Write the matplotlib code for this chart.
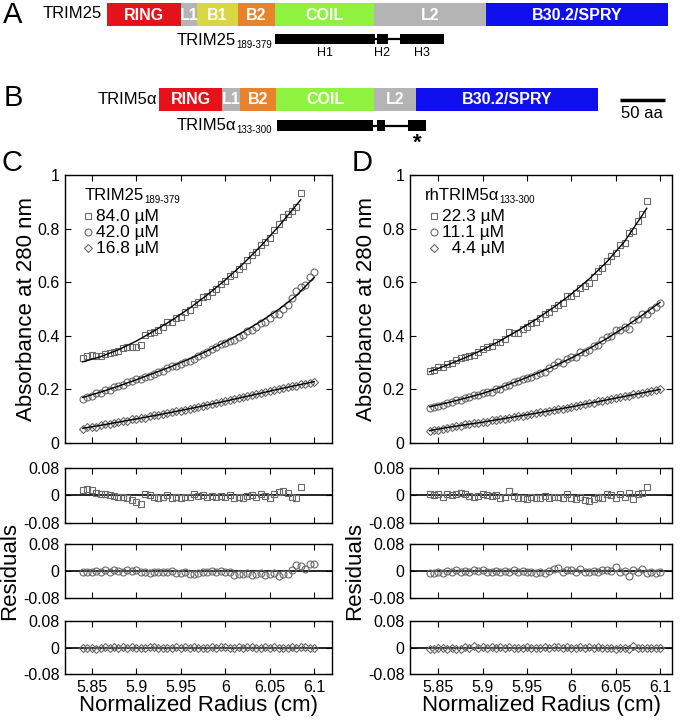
import matplotlib
matplotlib.use('Agg')
import matplotlib.pyplot as plt
from matplotlib.patches import Rectangle

plt.rcParams['font.family'] = ['Liberation Sans', 'DejaVu Sans']

# ---------------- domain maps (residue numbers) ----------------
trim25_names = ['RING', 'L1', 'B1', 'B2', 'COIL', 'L2', 'B30.2/SPRY']
trim25_bounds = [0, 83, 101, 147, 189, 300, 426, 630]
trim25_helices = [(189, 301), (303, 316), (329, 379)]
trim25_helix_labels = ['H1', 'H2', 'H3']

trim5_names = ['RING', 'L1', 'B2', 'COIL', 'L2', 'B30.2/SPRY']
trim5_bounds = [0, 71, 91, 131, 242, 289, 493]
trim5_helices = [(133, 240), (245, 254), (280, 300)]

dom_colors = {'RING': '#e3121b', 'L1': '#b4b4b4', 'B1': '#d8d642', 'B2': '#e9832b',
              'COIL': '#8ff23f', 'L2': '#b4b4b4', 'B30.2/SPRY': '#1010ee'}

# ---------------- panel C: TRIM25 189-379 ----------------
c_labels = ['84.0 \u00b5M', '42.0 \u00b5M', '16.8 \u00b5M']

c_sq_r = [5.840, 5.845, 5.850, 5.855, 5.860, 5.865, 5.870, 5.875, 5.880, 5.885,
          5.890, 5.895, 5.900, 5.905, 5.910, 5.915, 5.920, 5.925, 5.930, 5.935,
          5.940, 5.945, 5.950, 5.955, 5.960, 5.965, 5.970, 5.975, 5.980, 5.985,
          5.990, 5.995, 6.000, 6.005, 6.010, 6.015, 6.020, 6.025, 6.030, 6.035,
          6.040, 6.045, 6.050, 6.055, 6.060, 6.065, 6.070, 6.075, 6.080, 6.085]
c_sq_abs = [0.318, 0.326, 0.329, 0.325, 0.326, 0.332, 0.335, 0.340, 0.344, 0.353,
            0.358, 0.360, 0.360, 0.365, 0.403, 0.411, 0.415, 0.422, 0.434, 0.450,
            0.452, 0.465, 0.472, 0.489, 0.498, 0.519, 0.526, 0.543, 0.549, 0.565,
            0.575, 0.593, 0.604, 0.625, 0.632, 0.650, 0.660, 0.683, 0.703, 0.714,
            0.738, 0.751, 0.765, 0.794, 0.818, 0.842, 0.854, 0.864, 0.881, 0.932]
c_sq_res = [0.015, 0.018, 0.016, 0.008, 0.004, 0.003, 0.000, -0.002, -0.004, -0.003,
            -0.006, -0.012, -0.020, -0.025, 0.004, 0.002, -0.003, -0.006, -0.004, 0.002,
            -0.006, -0.004, -0.008, -0.003, -0.005, 0.003, -0.002, 0.002, -0.004, -0.002,
            -0.005, -0.001, -0.004, 0.002, -0.006, -0.003, -0.008, -0.002, 0.002, -0.004,
            0.003, -0.002, -0.006, 0.004, 0.010, 0.014, 0.006, -0.004, -0.007, 0.024]

c_ci_r = [5.840, 5.845, 5.850, 5.855, 5.860, 5.865, 5.870, 5.875, 5.880, 5.885,
          5.890, 5.895, 5.900, 5.905, 5.910, 5.915, 5.920, 5.925, 5.930, 5.935,
          5.940, 5.945, 5.950, 5.955, 5.960, 5.965, 5.970, 5.975, 5.980, 5.985,
          5.990, 5.995, 6.000, 6.005, 6.010, 6.015, 6.020, 6.025, 6.030, 6.035,
          6.040, 6.045, 6.050, 6.055, 6.060, 6.065, 6.070, 6.075, 6.080, 6.085,
          6.090, 6.095, 6.100]
c_ci_abs = [0.166, 0.173, 0.177, 0.185, 0.187, 0.198, 0.199, 0.210, 0.212, 0.216,
            0.226, 0.230, 0.239, 0.240, 0.245, 0.249, 0.259, 0.264, 0.270, 0.278,
            0.286, 0.288, 0.294, 0.303, 0.306, 0.312, 0.323, 0.333, 0.341, 0.352,
            0.359, 0.370, 0.375, 0.382, 0.384, 0.397, 0.404, 0.418, 0.422, 0.434,
            0.448, 0.453, 0.466, 0.481, 0.483, 0.501, 0.514, 0.541, 0.568, 0.581,
            0.590, 0.621, 0.638]
c_ci_res = [-0.004, -0.002, -0.003, 0.000, -0.003, 0.002, -0.002, 0.003, 0.000, -0.002,
            0.002, 0.000, 0.003, -0.002, -0.004, -0.006, -0.002, -0.003, -0.004, -0.002,
            0.000, -0.005, -0.006, -0.004, -0.008, -0.010, -0.006, -0.004, -0.003, 0.000,
            -0.002, 0.001, -0.002, -0.004, -0.012, -0.008, -0.010, -0.006, -0.012, -0.010,
            -0.006, -0.012, -0.010, -0.006, -0.015, -0.010, -0.010, 0.004, 0.018, 0.014,
            0.006, 0.020, 0.020]

c_di_r = c_ci_r
c_di_abs = [0.052, 0.058, 0.060, 0.061, 0.066, 0.070, 0.071, 0.076, 0.077, 0.081,
            0.083, 0.088, 0.090, 0.093, 0.095, 0.100, 0.103, 0.105, 0.108, 0.111,
            0.114, 0.119, 0.121, 0.125, 0.127, 0.132, 0.135, 0.138, 0.141, 0.146,
            0.148, 0.153, 0.157, 0.159, 0.163, 0.168, 0.170, 0.176, 0.178, 0.181,
            0.186, 0.190, 0.193, 0.198, 0.201, 0.204, 0.208, 0.212, 0.214, 0.219,
            0.222, 0.225, 0.228]
c_di_res = [-0.003, 0.000, -0.001, -0.004, 0.000, 0.001, -0.001, 0.002, 0.000, 0.001,
            -0.001, 0.001, 0.000, 0.000, -0.001, 0.001, 0.001, -0.002, -0.001, -0.002,
            -0.001, 0.001, 0.000, 0.001, -0.001, 0.001, 0.000, -0.001, -0.001, 0.001,
            -0.001, 0.001, 0.001, -0.001, -0.001, 0.001, -0.001, 0.002, 0.001, -0.002,
            0.000, 0.001, 0.000, 0.002, 0.000, -0.001, 0.000, 0.001, -0.001, 0.001,
            0.001, 0.000, -0.001]

# fitted curves read at 0.02 cm steps
c_fit_r = [5.84, 5.86, 5.88, 5.90, 5.92, 5.94, 5.96, 5.98, 6.00, 6.02, 6.04, 6.06, 6.08, 6.10]
c_sq_fit_r = [5.84, 5.86, 5.88, 5.90, 5.92, 5.94, 5.96, 5.98, 6.00, 6.02, 6.04, 6.06, 6.08, 6.085]
c_sq_fit = [0.303, 0.322, 0.348, 0.380, 0.418, 0.458, 0.503, 0.553, 0.608, 0.668, 0.735, 0.808, 0.888, 0.908]
c_ci_fit = [0.170, 0.190, 0.212, 0.236, 0.261, 0.286, 0.314, 0.344, 0.377, 0.414, 0.454, 0.498, 0.550, 0.618]
c_di_fit = [0.055, 0.066, 0.078, 0.090, 0.102, 0.115, 0.128, 0.142, 0.156, 0.171, 0.186, 0.201, 0.215, 0.229]

# ---------------- panel D: rhTRIM5alpha 133-300 ----------------
d_labels = ['22.3 \u00b5M', '11.1 \u00b5M', '  4.4 \u00b5M']

d_sq_r = c_sq_r
d_sq_abs = [0.270, 0.272, 0.284, 0.282, 0.294, 0.299, 0.309, 0.317, 0.322, 0.324,
            0.328, 0.339, 0.352, 0.357, 0.363, 0.376, 0.376, 0.388, 0.415, 0.409,
            0.412, 0.424, 0.432, 0.447, 0.453, 0.466, 0.482, 0.487, 0.502, 0.516,
            0.524, 0.548, 0.550, 0.560, 0.580, 0.586, 0.596, 0.618, 0.640, 0.654,
            0.680, 0.697, 0.708, 0.737, 0.748, 0.783, 0.791, 0.829, 0.856, 0.902]
d_sq_res = [0.004, 0.000, 0.005, -0.003, 0.003, 0.001, 0.004, 0.006, 0.004, -0.002,
            -0.005, -0.002, 0.004, 0.000, -0.002, 0.002, -0.006, -0.004, 0.014, -0.002,
            -0.008, -0.006, -0.009, -0.004, -0.008, -0.006, -0.002, -0.008, -0.004, -0.003,
            -0.007, 0.004, -0.006, -0.010, -0.004, -0.012, -0.016, -0.010, -0.004, -0.006,
            0.004, 0.002, -0.006, 0.004, -0.004, 0.006, -0.010, 0.003, 0.006, 0.026]

d_ci_r = c_ci_r
d_ci_abs = [0.129, 0.133, 0.139, 0.140, 0.150, 0.152, 0.161, 0.161, 0.167, 0.170,
            0.178, 0.180, 0.188, 0.189, 0.192, 0.202, 0.203, 0.213, 0.218, 0.228,
            0.230, 0.239, 0.242, 0.248, 0.252, 0.263, 0.266, 0.279, 0.292, 0.302,
            0.300, 0.312, 0.321, 0.322, 0.341, 0.339, 0.348, 0.362, 0.367, 0.383,
            0.394, 0.401, 0.423, 0.420, 0.432, 0.427, 0.459, 0.462, 0.482, 0.483,
            0.497, 0.507, 0.521]
d_ci_res = [-0.006, -0.006, -0.004, -0.006, 0.000, -0.002, 0.002, -0.002, 0.000, -0.002,
            0.002, -0.001, 0.003, -0.002, -0.004, 0.000, -0.004, 0.000, -0.002, 0.002,
            -0.002, 0.000, -0.003, -0.004, -0.006, -0.002, -0.006, 0.000, 0.006, 0.008,
            -0.002, 0.003, 0.004, -0.004, 0.006, -0.004, -0.004, 0.000, -0.004, 0.002,
            0.004, 0.000, 0.012, -0.002, 0.000, -0.016, 0.004, -0.004, 0.005, -0.006,
            -0.004, -0.006, -0.004]

d_di_r = c_ci_r
d_di_abs = [0.043, 0.047, 0.048, 0.054, 0.056, 0.061, 0.062, 0.064, 0.070, 0.070,
            0.074, 0.075, 0.079, 0.080, 0.084, 0.087, 0.090, 0.091, 0.094, 0.098,
            0.100, 0.102, 0.106, 0.108, 0.111, 0.114, 0.117, 0.119, 0.123, 0.126,
            0.128, 0.132, 0.135, 0.137, 0.142, 0.144, 0.148, 0.151, 0.155, 0.157,
            0.161, 0.164, 0.168, 0.170, 0.174, 0.176, 0.181, 0.184, 0.187, 0.190,
            0.193, 0.197, 0.201]
d_di_res = [-0.004, -0.005, -0.002, -0.003, -0.004, -0.002, -0.006, -0.004, 0.002, -0.002,
            0.004, 0.000, 0.001, -0.002, 0.001, 0.000, 0.002, 0.000, 0.001, -0.001,
            0.000, -0.002, 0.001, -0.001, 0.000, 0.000, 0.001, -0.002, 0.001, 0.002,
            0.000, 0.001, 0.000, -0.001, 0.002, 0.000, 0.001, 0.000, 0.001, -0.003,
            -0.002, 0.000, -0.004, -0.002, -0.003, -0.005, 0.004, -0.002, 0.000, -0.002,
            -0.003, -0.002, 0.000]

d_fit_r = [5.84, 5.86, 5.88, 5.90, 5.92, 5.94, 5.96, 5.98, 6.00, 6.02, 6.04, 6.06, 6.08, 6.085]
d_sq_fit = [0.266, 0.291, 0.318, 0.348, 0.382, 0.420, 0.461, 0.506, 0.556, 0.612, 0.676, 0.752, 0.850, 0.876]
d_fit_r2 = [5.84, 5.86, 5.88, 5.90, 5.92, 5.94, 5.96, 5.98, 6.00, 6.02, 6.04, 6.06, 6.08, 6.10]
d_ci_fit = [0.135, 0.150, 0.167, 0.185, 0.207, 0.232, 0.258, 0.286, 0.317, 0.352, 0.390, 0.432, 0.477, 0.525]
d_di_fit = [0.046, 0.058, 0.068, 0.078, 0.089, 0.100, 0.111, 0.123, 0.135, 0.148, 0.161, 0.174, 0.187, 0.200]

rad_ticks = [5.85, 5.90, 5.95, 6.00, 6.05, 6.10]
rad_ticklabels = ['5.85', '5.9', '5.95', '6', '6.05', '6.1']
abs_ticks = [0, 0.2, 0.4, 0.6, 0.8, 1.0]
abs_ticklabels = ['0', '0.2', '0.4', '0.6', '0.8', '1']
res_ticks = [-0.08, 0, 0.08]
res_ticklabels = ['-0.08', '0', '0.08']

# ---------------- figure ----------------
W, H = 680, 724
fig = plt.figure(figsize=(6.8, 7.24), dpi=100)


def px_box(x0, y0, x1, y1):
    return [x0 / W, 1 - y1 / H, (x1 - x0) / W, (y1 - y0) / H]


top = fig.add_axes([0, 0, 1, 1])
top.set_xlim(0, W)
top.set_ylim(H, 0)
top.axis('off')

PX_AA = 0.89


def draw_map(x0, y0, y1, bounds, names):
    for i, name in enumerate(names):
        a = x0 + bounds[i] * PX_AA
        b = x0 + bounds[i + 1] * PX_AA
        top.add_patch(Rectangle((a, y0), b - a, y1 - y0, color=dom_colors[name], lw=0))
        top.text((a + b) / 2, (y0 + y1) / 2 + 0.5, name, color='white', weight='bold',
                 fontsize=11.5, ha='center', va='center')


def draw_helices(x0, y0, y1, helices):
    ym = (y0 + y1) / 2
    top.plot([x0 + helices[0][0] * PX_AA, x0 + helices[-1][1] * PX_AA], [ym, ym],
             color='black', lw=1.6, solid_capstyle='butt')
    for a, b in helices:
        top.add_patch(Rectangle((x0 + a * PX_AA, y0), (b - a) * PX_AA, y1 - y0,
                                color='black', lw=0))


def sub_label(ax, x, y, main, sub, size, subsize, ha, transform):
    if ha == 'left':
        t = ax.text(x, y, main, fontsize=size, ha='left', va='baseline', transform=transform)
        ax.annotate(sub, xy=(1, 0), xycoords=t, xytext=(0.3, -1.5), textcoords='offset points',
                    fontsize=subsize, ha='left', va='bottom')
    else:
        s = ax.text(x, y, sub, fontsize=subsize, ha='right', va='baseline', transform=transform)
        ax.annotate(main, xy=(0, 0), xycoords=s, xytext=(-0.3, 1.5), textcoords='offset points',
                    fontsize=size, ha='right', va='bottom')


# panel A
top.text(13, 15, 'A', fontsize=21, ha='center', va='center')
top.text(102, 14, 'TRIM25', fontsize=12, ha='right', va='center')
draw_map(107, 3, 26, trim25_bounds, trim25_names)
draw_helices(107, 34, 44, trim25_helices)
sub_label(top, 272, 48, 'TRIM25', '189-379', 12, 7, 'right', top.transData)
for (a, b), lab in zip(trim25_helices, trim25_helix_labels):
    top.text(107 + (a + b) / 2 * PX_AA, 53, lab, fontsize=9, ha='center', va='center')

# panel B
top.text(13, 98, 'B', fontsize=21, ha='center', va='center')
top.text(157, 100, 'TRIM5\u03b1', fontsize=12, ha='right', va='center')
draw_map(159, 88, 111, trim5_bounds, trim5_names)
draw_helices(159, 120, 131, trim5_helices)
sub_label(top, 272, 133, 'TRIM5\u03b1', '133-300', 12, 7, 'right', top.transData)
top.text(159 + (trim5_helices[-1][0] + trim5_helices[-1][1]) / 2 * PX_AA, 143, '*',
         fontsize=16, weight='bold', ha='center', va='center')
top.plot([620, 620 + 50 * PX_AA], [100, 100], color='black', lw=2.5, solid_capstyle='butt')
top.text(620 + 25 * PX_AA, 114, '50 aa', fontsize=12, ha='center', va='center')

top.text(12, 163, 'C', fontsize=21, ha='center', va='center')
top.text(362, 163, 'D', fontsize=21, ha='center', va='center')

mk = dict(linestyle='none', mfc='none', mec='#6a6a6a', mew=0.8)
markers = [('s', 5), ('o', 5), ('D', 4)]


def style(ax, xlim):
    ax.set_xlim(xlim)
    ax.set_xticks(rad_ticks)
    ax.tick_params(direction='in', top=True, right=True, length=4, width=0.8,
                   labelsize=11.5, pad=4)
    for s in ax.spines.values():
        s.set_linewidth(1.0)


panels = [
    (65, 332, (5.82, 6.12), 'TRIM25', '189-379', c_labels, (0.075, 0.087, 0.117),
     [(c_sq_r, c_sq_abs, c_sq_res, c_sq_fit_r, c_sq_fit),
      (c_ci_r, c_ci_abs, c_ci_res, c_fit_r, c_ci_fit),
      (c_di_r, c_di_abs, c_di_res, c_fit_r, c_di_fit)]),
    (410, 672, (5.818, 6.1135), 'rhTRIM5\u03b1', '133-300', d_labels, (0.057, 0.092, 0.122),
     [(d_sq_r, d_sq_abs, d_sq_res, d_fit_r, d_sq_fit),
      (d_ci_r, d_ci_abs, d_ci_res, d_fit_r2, d_ci_fit),
      (d_di_r, d_di_abs, d_di_res, d_fit_r2, d_di_fit)]),
]

res_rows = [(468, 523), (544, 598), (621, 674)]

for x0, x1, xlim, title, title_sub, labels, (lx, mx, tx), series in panels:
    ax = fig.add_axes(px_box(x0, 175, x1, 443))
    style(ax, xlim)
    ax.set_ylim(0, 1)
    ax.set_yticks(abs_ticks)
    ax.set_yticklabels(abs_ticklabels)
    ax.tick_params(labelbottom=False)
    for (m, ms), (r, a, res, fr, fv) in zip(markers, series):
        ax.plot(r, a, marker=m, ms=ms, **mk, zorder=2)
        ax.plot(fr, fv, color='black', lw=1.0, zorder=3)

    # legend block
    sub_label(ax, lx, 0.908, title, title_sub, 12, 7, 'left', ax.transAxes)
    for i, ((m, ms), lab) in enumerate(zip(markers, labels)):
        fy = 0.846 - i * 0.06
        ax.plot([mx], [fy], marker=m, ms=ms, transform=ax.transAxes, clip_on=False, **mk)
        ax.text(tx, fy, lab, fontsize=12.5, va='center', transform=ax.transAxes)

    for j, ((y0, y1), (m, ms), (r, a, res, fr, fv)) in enumerate(zip(res_rows, markers, series)):
        rax = fig.add_axes(px_box(x0, y0, x1, y1))
        style(rax, xlim)
        rax.set_ylim(-0.08, 0.08)
        rax.set_yticks(res_ticks)
        rax.set_yticklabels(res_ticklabels)
        rax.axhline(0, color='black', lw=1.2, zorder=1)
        rax.plot(r, res, marker=m, ms=ms, **mk, zorder=2)
        if j < 2:
            rax.tick_params(labelbottom=False)
        else:
            rax.set_xticklabels(rad_ticklabels)

    xl = x0 - 38 if x0 < 300 else x0 - 43
    fig.text(xl / W, 1 - 309 / H, 'Absorbance at 280 nm', rotation=90, fontsize=16,
             ha='center', va='center')
    fig.text((x0 - 55) / W, 1 - 571 / H, 'Residuals', rotation=90, fontsize=16,
             ha='center', va='center')
    fig.text((x0 + x1) / 2 / W, 1 - 706 / H, 'Normalized Radius (cm)', fontsize=16,
             ha='center', va='center')

fig.savefig('out.png', dpi=100)
